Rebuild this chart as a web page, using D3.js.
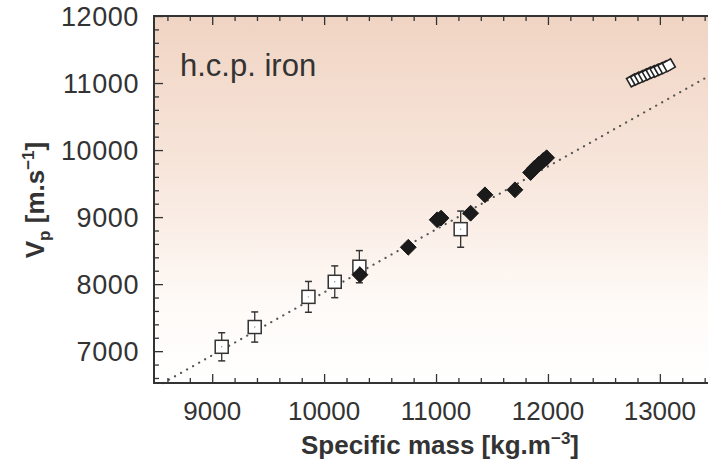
<!DOCTYPE html>
<html>
<head>
<meta charset="utf-8">
<script src="https://cdn.jsdelivr.net/npm/d3@7"></script>
<style>
html,body{margin:0;padding:0;background:#fff;}
svg{display:block;font-family:"Liberation Sans",Arial,Helvetica,sans-serif;}
</style>
</head>
<body>
<svg id="chart" width="708" height="470"></svg>
<script>
// ---- data ----
const xDomain = [8480, 13430];
const yDomain = [6525, 12000];
const xTicks = [9000, 10000, 11000, 12000, 13000];
const yTicks = [7000, 8000, 9000, 10000, 11000, 12000];
// open squares with error bars (x, y, err)
const sqX = [9085, 9380, 9860, 10095, 10315, 11220];
const sqY = [7065, 7360, 7810, 8035, 8260, 8820];
const sqErr = [210, 225, 230, 237, 240, 270];
// filled diamonds
const dmX = [10320, 10752, 11010, 11045, 11309, 11437, 11705, 11845, 11880, 11920, 11958, 11988];
const dmY = [8140, 8550, 8960, 8985, 9058, 9332, 9407, 9665, 9730, 9790, 9845, 9885];
// open diamonds (top right)
const odX = [12760, 12795, 12830, 12865, 12900, 12935, 12970, 13005, 13040, 13080];
const odY = [11040, 11065, 11090, 11115, 11140, 11165, 11185, 11210, 11235, 11265];
// dotted fit line endpoints
const fitX = [8560, 13430];
const fitY = [6525, 11098];

const svg = d3.select("#chart");
const L = 154, R = 708, T = 16, B = 383;
const x = d3.scaleLinear().domain(xDomain).range([L, R]);
const y = d3.scaleLinear().domain(yDomain).range([B, T]);

// background gradient
const defs = svg.append("defs");
const g = defs.append("linearGradient").attr("id","bg").attr("x1",0).attr("y1",0).attr("x2",0).attr("y2",1);
g.append("stop").attr("offset","0%").attr("stop-color","#f0d4c3");
g.append("stop").attr("offset","45%").attr("stop-color","#f8e7dd");
g.append("stop").attr("offset","78%").attr("stop-color","#fefaf7");
g.append("stop").attr("offset","100%").attr("stop-color","#ffffff");
svg.append("rect").attr("x",L).attr("y",T).attr("width",R-L).attr("height",B-T).attr("fill","url(#bg)");

// fit line
svg.append("line")
  .attr("x1", x(fitX[0])).attr("y1", y(fitY[0]))
  .attr("x2", x(fitX[1])).attr("y2", y(fitY[1]))
  .attr("stroke","#555").attr("stroke-width",2.2)
  .attr("stroke-dasharray","0.1,6.8").attr("stroke-linecap","round");

// axes with inward ticks
const minorX = d3.range(8600, 13500, 200);
const minorY = d3.range(6600, 12001, 200);
function axisGroup(axis, tx, ty){
  const a = svg.append("g").attr("transform",`translate(${tx},${ty})`).call(axis);
  a.select(".domain").remove();
  a.selectAll("line").attr("stroke","#333").attr("stroke-width",1.3);
  return a;
}
// bottom
axisGroup(d3.axisTop(x).tickValues(minorX.filter(v=>v%1000!==0)).tickSize(5).tickFormat(""),0,B);
axisGroup(d3.axisTop(x).tickValues(xTicks).tickSize(9).tickFormat(""),0,B);
// top
axisGroup(d3.axisBottom(x).tickValues(minorX.filter(v=>v%1000!==0)).tickSize(5).tickFormat(""),0,T);
axisGroup(d3.axisBottom(x).tickValues(xTicks).tickSize(9).tickFormat(""),0,T);
// left
axisGroup(d3.axisRight(y).tickValues(minorY.filter(v=>v%1000!==0)).tickSize(5).tickFormat(""),L,0);
axisGroup(d3.axisRight(y).tickValues(yTicks).tickSize(9).tickFormat(""),L,0);

// frame
svg.append("path").attr("d",`M${R},${T}H${L}V${B}H${R}`).attr("fill","none").attr("stroke","#333").attr("stroke-width",2);

// tick labels
svg.append("g").selectAll("text").data(xTicks).join("text")
  .attr("x", d=>x(d)).attr("y", 420).attr("text-anchor","middle")
  .attr("font-size",26).attr("fill","#333").text(d=>d);
svg.append("g").selectAll("text").data(yTicks).join("text")
  .attr("x", 139).attr("y", d=>y(d)+9.5).attr("text-anchor","end")
  .attr("font-size",27).attr("letter-spacing",0.6).attr("fill","#333").text(d=>d);

// axis titles
const xt = svg.append("text").attr("x",440).attr("y",454).attr("text-anchor","middle")
  .attr("font-size",26).attr("font-weight","bold").attr("fill","#333");
xt.append("tspan").text("Specific mass [kg.m");
xt.append("tspan").attr("font-size",17).attr("dy",-10).text("−3");
xt.append("tspan").attr("dy",10).text("]");

const yt = svg.append("text").attr("transform","translate(44,200) rotate(-90)").attr("text-anchor","middle")
  .attr("font-size",26).attr("font-weight","bold").attr("fill","#333");
yt.append("tspan").text("V");
yt.append("tspan").attr("font-size",17).attr("dy",6).text("p");
yt.append("tspan").attr("dy",-6).text(" [m.s");
yt.append("tspan").attr("font-size",17).attr("dy",-10).text("−1");
yt.append("tspan").attr("dy",10).text("]");

// label inside
svg.append("text").attr("x",180).attr("y",76).attr("font-size",31).attr("fill","#333").text("h.c.p. iron");

// error bars and squares
const sq = svg.append("g");
sqX.forEach((vx,i)=>{
  const cx = x(vx), cy = y(sqY[i]), e1 = y(sqY[i]+sqErr[i]), e2 = y(sqY[i]-sqErr[i]);
  sq.append("line").attr("x1",cx).attr("x2",cx).attr("y1",e1).attr("y2",e2).attr("stroke","#333").attr("stroke-width",1.3);
  [e1,e2].forEach(ey=>sq.append("line").attr("x1",cx-3.5).attr("x2",cx+3.5).attr("y1",ey).attr("y2",ey).attr("stroke","#333").attr("stroke-width",1.5));
  sq.append("rect").attr("x",cx-6.5).attr("y",cy-6.5).attr("width",13).attr("height",13)
    .attr("fill","#fff").attr("stroke","#333").attr("stroke-width",1.5);
  sq.append("circle").attr("cx",cx).attr("cy",cy).attr("r",0.7).attr("fill","#888");
});

// filled diamonds
const dSym = d3.symbol().type(d3.symbolDiamond2).size(160);
svg.append("g").selectAll("path").data(dmX).join("path")
  .attr("transform",(d,i)=>`translate(${x(d)},${y(dmY[i])})`)
  .attr("d", dSym).attr("fill","#1a1a1a").attr("stroke","#1a1a1a").attr("stroke-width",1);

// open diamonds top right
const oSym = d3.symbol().type(d3.symbolSquare).size(90);
svg.append("g").selectAll("path").data(odX).join("path")
  .attr("transform",(d,i)=>`translate(${x(d)},${y(odY[i])}) rotate(-30)`)
  .attr("d", oSym).attr("fill","#fff").attr("stroke","#222").attr("stroke-width",1.6);
</script>
</body>
</html>
